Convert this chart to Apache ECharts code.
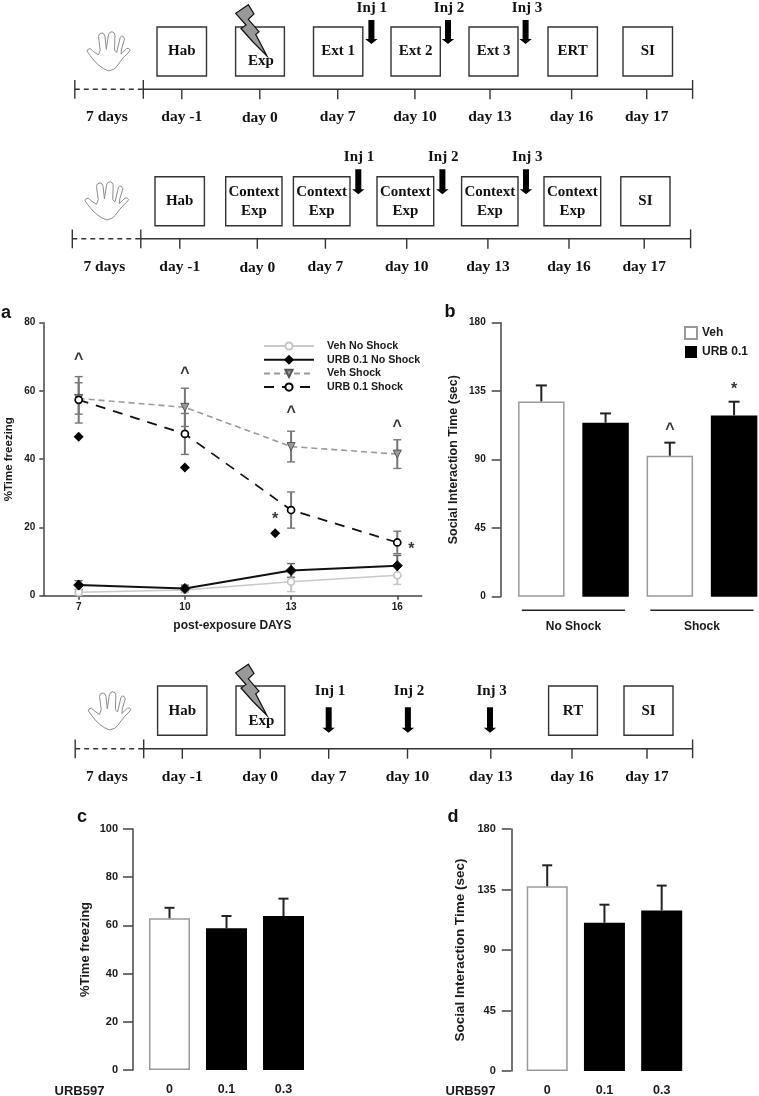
<!DOCTYPE html>
<html>
<head>
<meta charset="utf-8">
<style>html,body{margin:0;padding:0;background:#fff}#c{width:759px;height:1096px}</style>
<script src="https://cdn.jsdelivr.net/npm/echarts@6/dist/echarts.min.js"></script>
</head>
<body>
<div id="c"></div>
<script>
// ---------- panel a data ----------
var days = [7, 10, 13, 16];
var vehNoShock = [1.0, 1.7, 4.1, 6.0];
var vehNoShockErr = [0.8, 0.7, 2.9, 2.7];
var urbNoShock = [3.1, 2.1, 7.4, 8.8];
var urbNoShockErr = [1.3, 1.0, 2.0, 3.0];
var vehShock = [57.8, 55.2, 43.7, 41.5];
var vehShockErr = [4.6, 5.6, 4.5, 4.2];
var urbShock = [57.4, 47.4, 25.1, 15.6];
var urbShockErr = [6.8, 6.0, 5.3, 3.3];
var caretsA = [[7, 68.5], [10, 64.5], [13, 53], [16, 49]];
var diamondsA = [[7, 46.6], [10, 37.6], [12.55, 18.3]];
var starsA = [[12.55, 23], [16.4, 14]];
// ---------- panel b data ----------
var groupsB = ['Veh NS', 'URB NS', 'Veh S', 'URB S'];
var vehB = [128.3, null, 92.6, null];
var urbB = [null, 114.3, null, 119.1];
var errTopB = [138.8, 120.4, 101.2, 128.1];
var groupLabelsB = [['No Shock', 0, 1], ['Shock', 2, 3]];
// ---------- panels c / d data ----------
var doses = ['0', '0.1', '0.3'];
var freezeC = [63, 58.8, 63.9];
var freezeCErrTop = [67.3, 63.9, 71.1];
var socialD = [137.4, 110.3, 119.3];
var socialDErrTop = [153, 123.7, 137.9];
// ---------- timeline labels ----------
var tl1Boxes = ['Hab', 'Exp', 'Ext 1', 'Ext 2', 'Ext 3', 'ERT', 'SI'];
var tl2Boxes = ['Hab', 'Context\nExp', 'Context\nExp', 'Context\nExp', 'Context\nExp', 'Context\nExp', 'SI'];
var tl3Boxes = ['Hab', 'Exp', null, null, null, 'RT', 'SI'];
var dayLabels = ['day -1', 'day 0', 'day 7', 'day 10', 'day 13', 'day 16', 'day 17'];
var injLabels = ['Inj 1', 'Inj 2', 'Inj 3'];

// ---------- timeline layout (schematic) ----------
var layouts = [
 {boxes: tl1Boxes, boxY: [27, 76], boxX: [[157,206.5],[235.6,284.4],[313.5,362.8],[391,440.3],[469,518],[548,597.4],[623,672.5]],
  lineY: 89.3, x0: 74.8, x1: 143.3, x2: 692.6, ticks: [181.8,259.8,337.7,414.9,490,571.6,646.7], labelY: 116.5, sevenX: 107,
  injX: [371.8,449,527], injY: 8, arrX: [371.4,448,525.6], arrY: [20,44], hand: [86.7,31.7,43.5,40], bolt: 0, dayZeroDrop: 1.5},
 {boxes: tl2Boxes, boxY: [176.7,225.7], boxX: [[155,204.4],[225.7,282],[293.4,350],[377,433.7],[461.6,518],[544,600.7],[620.8,670]],
  lineY: 238.7, x0: 72.3, x1: 140.8, x2: 690.6, ticks: [179.8,257.3,325.4,406.7,487.9,569,644.2], labelY: 266.5, sevenX: 104.3,
  injX: [359,443.2,527.3], injY: 157, arrX: [358.3,442.4,526], arrY: [169.3,194.3], hand: [84.6,181.7,44,39], bolt: null, dayZeroDrop: 1.5},
 {boxes: tl3Boxes, boxY: [686,735.3], boxX: [[157.6,206.9],[236,284.8],null,null,null,[548.6,597.4],[624,673]],
  lineY: 748.7, x0: 75.2, x1: 143.7, x2: 692.6, ticks: [182.3,260.2,328.7,407.5,490.8,572,647], labelY: 776.5, sevenX: 107,
  injX: [330,409,491.6], injY: 691, arrX: [328.7,407.9,490], arrY: [707.3,732.7], hand: [87.9,691.7,43,39], bolt: 659.5, dayZeroDrop: 0}
];
var handShape = [[50,98],[38,92],[28,84],[19,75],[8,60],[1,49],[2,45],[8,42],[16,50],[27,58],[31,46],[27,12],[29,6],[35,3],[40,6],[42,12],[45,44],[50,8],[53,2],[58,0],[63,3],[65,8],[64,46],[69,52],[77,14],[80,11],[84,12],[87,18],[80,44],[79,56],[92,42],[97,42],[100,46],[96,52],[85,64],[77,75],[70,86],[62,94]];
var boltShape = [[248.3,4.7],[235.7,13.3],[246,25],[241,28.5],[253,42],[267,56],[255.7,34.3],[259,31.7],[248.3,19.3],[254,14]];

var SERIF = '"Liberation Serif","Times New Roman",serif';
var SANS = '"Liberation Sans",Arial,sans-serif';
var AXC = '#444';
var TXT = '#1a1a1a';

function buildTimeline(t) {
  var out = [];
  var ln = function (x1, y1, x2, y2, extra) {
    out.push({type: 'line', silent: true, shape: {x1: x1, y1: y1, x2: x2, y2: y2},
      style: Object.assign({stroke: '#333', lineWidth: 1.4}, extra || {}), z: 1});
  };
  var tx = function (s, x, y, size) {
    out.push({type: 'text', silent: true, z: 6, style: {text: s, x: x, y: y, align: 'center', verticalAlign: 'middle',
      textAlign: 'center', textVerticalAlign: 'middle', font: 'bold ' + size + 'px ' + SERIF, fill: '#111', lineHeight: 19}});
  };
  ln(t.x0, t.lineY, t.x1, t.lineY, {lineDash: [5, 4]});
  ln(t.x1, t.lineY, t.x2, t.lineY);
  [t.x0, t.x1, t.x2].forEach(function (x) { ln(x, t.lineY - 9.3, x, t.lineY + 9.5); });
  t.ticks.forEach(function (x, i) {
    ln(x, t.lineY, x, t.lineY + 10);
    tx(dayLabels[i], x, t.labelY + (i === 1 ? t.dayZeroDrop : 0), 15.5);
  });
  tx('7 days', t.sevenX, t.labelY, 15.5);
  t.boxes.forEach(function (b, i) {
    if (b === null) return;
    var bx = t.boxX[i];
    out.push({type: 'rect', silent: true, z: 2, shape: {x: bx[0], y: t.boxY[0], width: bx[1] - bx[0], height: t.boxY[1] - t.boxY[0]},
      style: {fill: '#fff', stroke: '#333', lineWidth: 1.4}});
    var my = (t.boxY[0] + t.boxY[1]) / 2;
    if (b === 'Exp') tx(b, (bx[0] + bx[1]) / 2 + 1, my + 10, 15);
    else tx(b, (bx[0] + bx[1]) / 2, my + (b.indexOf('\n') >= 0 ? 0.5 : 0), 15);
  });
  t.injX.forEach(function (x, i) { tx(injLabels[i], x, t.injY, 15); });
  t.arrX.forEach(function (x) {
    var a = t.arrY[0], b = t.arrY[1], h = b - 5;
    out.push({type: 'polygon', silent: true, z: 3, shape: {points: [[x - 3, a], [x + 3, a], [x + 3, h], [x + 6.2, h], [x, b], [x - 6.2, h], [x - 3, h]]},
      style: {fill: '#000'}});
  });
  var hd = t.hand;
  out.push({type: 'polygon', silent: true, z: 3, shape: {points: handShape.map(function (p) { return [hd[0] + p[0] * hd[2] / 100, hd[1] + p[1] * hd[3] / 100]; })},
    style: {fill: '#fff', stroke: '#8c8c8c', lineWidth: 1, lineJoin: 'round'}});
  if (t.bolt !== null) {
    out.push({type: 'polygon', silent: true, z: 5, shape: {points: boltShape.map(function (p) { return [p[0], p[1] + t.bolt]; })},
      style: {fill: '#999', stroke: '#111', lineWidth: 1.2}});
  }
  return out;
}

var graphics = [];
layouts.forEach(function (t) { graphics = graphics.concat(buildTimeline(t)); });
[['a', 6, 313], ['b', 450, 312], ['c', 82, 817], ['d', 453, 817]].forEach(function (p) {
  graphics.push({type: 'text', silent: true, style: {text: p[0], x: p[1], y: p[2], textAlign: 'center', textVerticalAlign: 'middle',
    align: 'center', verticalAlign: 'middle', font: 'bold 18px ' + SANS, fill: '#111'}});
});
[['URB597', 79.5], ['URB597', 470.5]].forEach(function (p) {
  graphics.push({type: 'text', silent: true, style: {text: p[0], x: p[1], y: 1091, textAlign: 'center', textVerticalAlign: 'middle',
    align: 'center', verticalAlign: 'middle', font: 'bold 13px ' + SANS, fill: TXT}});
});

// ---------- renderers ----------
function errBoth(capW, color) {
  return function (params, api) {
    var x = api.value(0), y = api.value(1), e = api.value(2);
    var top = api.coord([x, y + e]), bot = api.coord([x, y - e]);
    var st = {stroke: color, lineWidth: 1.4, fill: null};
    return {type: 'group', children: [
      {type: 'line', shape: {x1: top[0], y1: top[1], x2: bot[0], y2: bot[1]}, style: {stroke: color, lineWidth: 2, fill: null}},
      {type: 'line', shape: {x1: top[0] - capW, y1: top[1], x2: top[0] + capW, y2: top[1]}, style: st},
      {type: 'line', shape: {x1: bot[0] - capW, y1: bot[1], x2: bot[0] + capW, y2: bot[1]}, style: st}
    ]};
  };
}
function errTop(capW) {
  return function (params, api) {
    var i = api.value(0);
    var a = api.coord([i, api.value(1)]), b = api.coord([i, api.value(2)]);
    var st = {stroke: '#222', lineWidth: 2, fill: null};
    return {type: 'group', children: [
      {type: 'line', shape: {x1: a[0], y1: a[1], x2: b[0], y2: b[1]}, style: st},
      {type: 'line', shape: {x1: b[0] - capW, y1: b[1], x2: b[0] + capW, y2: b[1]}, style: st}
    ]};
  };
}
function zipErr(v, e) { return v.map(function (y, i) { return [days[i], y, e[i]]; }); }
function zipLine(v) { return v.map(function (y, i) { return [days[i], y]; }); }

function yAxis(grid, max, interval, name, gap, offset, tickLen, nameSize, labelSize, labelMargin) {
  return {
    type: 'value', gridIndex: grid, min: 0, max: max, interval: interval, offset: offset,
    name: name, nameLocation: 'middle', nameGap: gap, nameRotate: 90,
    nameTextStyle: {fontFamily: SANS, fontWeight: 'bold', fontSize: nameSize, color: TXT},
    axisLine: {show: true, lineStyle: {color: AXC, width: 1.5}},
    axisTick: {show: true, length: tickLen, lineStyle: {color: AXC, width: 1.5}},
    axisLabel: {fontFamily: SANS, fontWeight: 'bold', fontSize: labelSize, color: TXT, margin: labelMargin},
    splitLine: {show: false}
  };
}
function catAxis(grid, data, showLabel) {
  return {
    type: 'category', gridIndex: grid, data: data,
    axisLine: {show: false}, axisTick: {show: false}, splitLine: {show: false},
    axisLabel: {show: showLabel, fontFamily: SANS, fontWeight: 'bold', fontSize: 12.5, color: TXT, margin: 13}
  };
}
function textMarks(name, points, text, size, xi, yi, dy) {
  return {
    name: name, type: 'scatter', xAxisIndex: xi, yAxisIndex: yi, data: points, symbolSize: 1, silent: true,
    itemStyle: {color: 'rgba(0,0,0,0)'}, z: 8, tooltip: {show: false},
    label: {show: true, position: 'inside', offset: [0, dy], formatter: text, fontFamily: SANS, fontWeight: 'bold', fontSize: size, color: '#000'}
  };
}
function whiteBlackBars(xi, yi, width, whiteData, blackData) {
  return [
    {name: 'Veh', type: 'bar', xAxisIndex: xi, yAxisIndex: yi, data: whiteData, barWidth: width, barGap: '-100%',
     itemStyle: {color: '#fff', borderColor: '#999', borderWidth: 1.5}},
    {name: 'URB 0.1', type: 'bar', xAxisIndex: xi, yAxisIndex: yi, data: blackData, barWidth: width, barGap: '-100%',
     itemStyle: {color: '#000', borderColor: '#000', borderWidth: 0}}
  ];
}
function firstOnly(v) { return v.map(function (y, i) { return i === 0 ? y : null; }); }
function notFirst(v) { return v.map(function (y, i) { return i === 0 ? null : y; }); }
function errData(v, tops) { return tops.map(function (t, i) { return [i, v[i], t]; }); }
var valuesB = vehB.map(function (v, i) { return v === null ? urbB[i] : v; });

var lineStyles = [
  {name: 'Veh No Shock', data: vehNoShock, color: '#c9c9c9', width: 1.5, type: 'solid', symbol: 'circle', size: 7, fill: '#fff', border: '#c4c4c4', rot: 0},
  {name: 'URB 0.1 No Shock', data: urbNoShock, color: '#111', width: 2, type: 'solid', symbol: 'diamond', size: 10, fill: '#000', border: '#000', rot: 0},
  {name: 'Veh Shock', data: vehShock, color: '#999', width: 1.6, type: [6, 4], symbol: 'triangle', size: 8, fill: '#999', border: '#555', rot: 180},
  {name: 'URB 0.1 Shock', data: urbShock, color: '#111', width: 1.7, type: [10, 8], symbol: 'circle', size: 7, fill: '#fff', border: '#000', rot: 0}
];
var errSets = [vehNoShockErr, urbNoShockErr, vehShockErr, urbShockErr];
var errColors = ['#c4c4c4', '#666', '#777', '#777'];

var seriesA = [];
lineStyles.forEach(function (s, i) {
  seriesA.push({name: s.name + ' err', type: 'custom', xAxisIndex: 0, yAxisIndex: 0, renderItem: errBoth(4, errColors[i]),
    data: zipErr(s.data, errSets[i]), z: 2, silent: true, tooltip: {show: false}});
});
lineStyles.forEach(function (s) {
  seriesA.push({name: s.name, type: 'line', xAxisIndex: 0, yAxisIndex: 0, data: zipLine(s.data), symbol: s.symbol, symbolSize: s.size, symbolRotate: s.rot,
    showAllSymbol: true, lineStyle: {color: s.color, width: s.width, type: s.type},
    itemStyle: {color: s.fill, borderColor: s.border, borderWidth: s.symbol === 'circle' ? 1.7 : 1}, z: 4});
});
seriesA.push(textMarks('carets a', caretsA, '^', 16, 0, 0, -2));
seriesA.push({name: 'diamonds a', type: 'scatter', xAxisIndex: 0, yAxisIndex: 0, data: diamondsA, symbol: 'diamond', symbolSize: 10, itemStyle: {color: '#000', opacity: 1}, silent: true, z: 8});
seriesA.push(textMarks('stars a', starsA, '*', 16, 0, 0, 2));

var seriesB = whiteBlackBars(1, 1, 46.5, vehB, urbB).concat([
  {name: 'err b', type: 'custom', xAxisIndex: 1, yAxisIndex: 1, renderItem: errTop(5.5), data: errData(valuesB, errTopB), z: 3, silent: true},
  {name: 'groups b', type: 'custom', xAxisIndex: 1, yAxisIndex: 1, silent: true, z: 3,
   data: groupLabelsB.map(function (g) { return [g[1], g[2], g[0]]; }),
   renderItem: function (params, api) {
     var a = api.coord([api.value(0), 0]), b = api.coord([api.value(1), 0]);
     var x1 = a[0] - 19.5, x2 = b[0] + 19.5, y = a[1] + 13.5;
     return {type: 'group', children: [
       {type: 'line', shape: {x1: x1, y1: y, x2: x2, y2: y}, style: {stroke: '#222', lineWidth: 1.6}},
       {type: 'text', style: {text: groupLabelsB[params.dataIndex][0], x: (x1 + x2) / 2, y: y + 16, align: 'center', verticalAlign: 'middle',
         textAlign: 'center', textVerticalAlign: 'middle', font: 'bold 12px ' + SANS, fill: TXT}}
     ]};
   }},
  textMarks('caret b', [[2, 110.5]], '^', 16, 1, 1, 1),
  textMarks('star b', [[3, 137.3]], '*', 16, 1, 1, 2)
]);
var seriesC = whiteBlackBars(2, 2, 41, firstOnly(freezeC), notFirst(freezeC)).concat([
  {name: 'err c', type: 'custom', xAxisIndex: 2, yAxisIndex: 2, renderItem: errTop(5), data: errData(freezeC, freezeCErrTop), z: 3, silent: true}
]);
var seriesD = whiteBlackBars(3, 3, 41, firstOnly(socialD), notFirst(socialD)).concat([
  {name: 'err d', type: 'custom', xAxisIndex: 3, yAxisIndex: 3, renderItem: errTop(5), data: errData(socialD, socialDErrTop), z: 3, silent: true}
]);

var option = {
  animation: false,
  backgroundColor: '#fff',
  graphic: {elements: graphics},
  grid: [
    {left: 43.3, top: 322.7, width: 378.4, height: 273, outerBoundsMode: 'none'},
    {left: 509.2, top: 322.7, width: 257, height: 274, outerBoundsMode: 'none'},
    {left: 141, top: 829, width: 171, height: 241, outerBoundsMode: 'none'},
    {left: 518.6, top: 829, width: 171.7, height: 242, outerBoundsMode: 'none'}
  ],
  legend: [
    {data: lineStyles.map(function (s) { return s.name; }), orient: 'vertical', left: 263, top: 340.5, padding: 0, itemWidth: 50, itemHeight: 9, itemGap: 2.7,
     selectedMode: false, textStyle: {fontFamily: SANS, fontWeight: 'bold', fontSize: 10.7, color: TXT, padding: [0, 0, 0, 8]}},
    {data: ['Veh', 'URB 0.1'], orient: 'vertical', left: 684, top: 326, padding: 0, itemWidth: 12, itemHeight: 12, itemGap: 6, icon: 'rect',
     selectedMode: false, textStyle: {fontFamily: SANS, fontWeight: 'bold', fontSize: 12, color: TXT}}
  ],
  xAxis: [
    {type: 'value', gridIndex: 0, min: 6, max: 16.69,
     name: 'post-exposure DAYS', nameLocation: 'middle', nameGap: 24,
     nameTextStyle: {fontFamily: SANS, fontWeight: 'bold', fontSize: 12, color: TXT},
     axisLine: {show: true, lineStyle: {color: AXC, width: 1.5}},
     axisTick: {show: true, length: 4, customValues: days, lineStyle: {color: AXC, width: 1.5}},
     axisLabel: {customValues: days, fontFamily: SANS, fontWeight: 'bold', fontSize: 10, color: TXT, margin: 7},
     splitLine: {show: false}},
    catAxis(1, groupsB, false),
    catAxis(2, doses, true),
    catAxis(3, doses, true)
  ],
  yAxis: [
    yAxis(0, 80, 20, '%Time freezing', 28, 0, 4, 11.5, 10, 8),
    yAxis(1, 180, 45, 'Social Interaction Time (sec)', 41, 8.5, 9, 12.5, 10, 15),
    yAxis(2, 100, 20, '%Time freezing', 41, 8, 10, 13, 11, 15),
    yAxis(3, 180, 45, 'Social Interaction Time (sec)', 44, 7.3, 9.5, 13.5, 11, 15.5)
  ],
  series: seriesA.concat(seriesB, seriesC, seriesD)
};
var chart = echarts.init(document.getElementById('c'), null, {renderer: 'canvas', width: 759, height: 1096});
chart.setOption(option);
</script>
</body>
</html>
